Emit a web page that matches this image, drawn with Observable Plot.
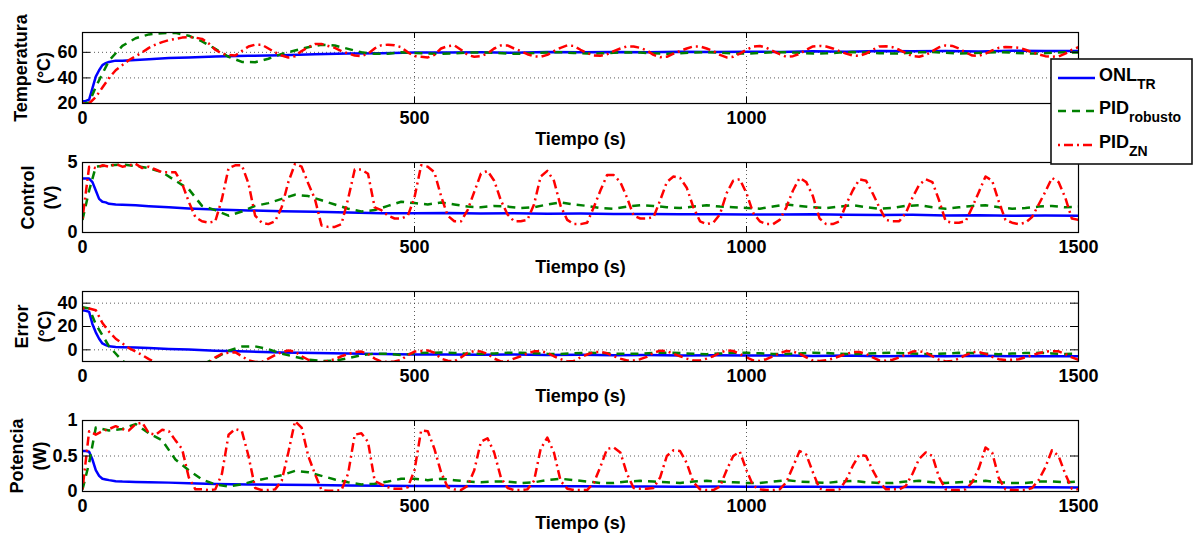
<!DOCTYPE html>
<html><head><meta charset="utf-8">
<script src="https://cdn.jsdelivr.net/npm/d3@7"></script>
<script src="https://cdn.jsdelivr.net/npm/@observablehq/plot@0.6"></script>
<style>
body{margin:0;background:#fff;}
#wrap{position:relative;width:1193px;height:535px;overflow:hidden;font-family:"Liberation Sans",Arial,sans-serif;}
#wrap svg.plotpanel{display:block}
</style></head><body><div id="wrap"></div>
<script>
// ---------- DATA ----------
const xTicks = [0, 500, 1000, 1500];
const xGrid = [500, 1000];
const xLabel = "Tiempo (s)";
const seriesNames = ["ONL", "PID", "PID"];
const seriesSubs = ["TR", "robusto", "ZN"];
const seriesColors = ["#0000ff", "#008000", "#ff0000"];

const tiempoONL = [0,5,10,15,20,25,30,35,40,50,60,80,100,130,160,200,250,300,350,400,450,500,550,600,650,700,750,800,850,900,950,1000,1050,1100,1150,1200,1250,1300,1350,1400,1450,1500];
const temperaturaONL = [21.5,22,23,32,41,46,50,51.5,52.5,53.5,53.5,54,54.5,55.5,56,56.8,57.3,57.8,58.5,59,59.3,59.8,59.8,60,59.7,60.2,60,60.3,60,60.4,60.2,60.5,60.3,60.8,60.5,61,60.8,61,60.7,61.2,61,61];
const controlONL = [3.85,3.85,3.85,3.6,3.0,2.4,2.2,2.15,2.05,2.0,1.98,1.95,1.88,1.8,1.72,1.64,1.58,1.52,1.48,1.42,1.38,1.38,1.4,1.36,1.37,1.34,1.35,1.32,1.33,1.3,1.31,1.29,1.28,1.3,1.26,1.25,1.26,1.22,1.24,1.2,1.22,1.2];
const errorONL = [34,33.5,32.5,22,15,9.5,5.5,4,3,2.5,2.3,2,1.5,0.8,0.2,-0.8,-1.5,-2.2,-2.8,-3.2,-3.5,-4,-4.1,-4.3,-4,-4.5,-4.3,-4.6,-4.4,-4.8,-4.6,-4.9,-4.7,-5.2,-4.9,-5.4,-5.2,-5.4,-5.1,-5.6,-5.4,-5.4];
const potenciaONL = [0.57,0.57,0.56,0.45,0.3,0.22,0.18,0.17,0.16,0.145,0.14,0.135,0.13,0.125,0.115,0.105,0.1,0.095,0.09,0.085,0.08,0.078,0.078,0.075,0.075,0.073,0.073,0.071,0.072,0.068,0.07,0.068,0.066,0.068,0.064,0.063,0.064,0.06,0.062,0.058,0.06,0.058];

const tiempoRob = [0,10,20,40,60,80,100,120,140,160,180,200,220,240,260,280,300,320,340,360,380,400,420,440,460,480,
  500,520,540,560,580,600,620,640,660,680,700,720,740,760,780,800,820,840,860,880,900,920,940,960,980,
  1000,1020,1040,1060,1080,1100,1120,1140,1160,1180,1200,1220,1240,1260,1280,1300,1320,1340,1360,1380,1400,1420,1440,1460,1480,1500];
const temperaturaRob = [20,20.5,33,53.5,65,71,74,75,75.2,73,68.6,62.7,56.5,52.5,52.3,55,58.8,61.4,64,66,65.3,62.7,60,58.8,58.8,60,
  59.5,59.0,58.8,59.2,59.8,60.0,59.6,59.0,58.9,59.4,59.9,60.1,59.5,59.0,59.2,59.7,60.0,59.8,59.2,58.9,
  59.3,59.8,60.2,59.7,59.1,59.0,59.5,60.0,60.1,59.6,59.0,59.2,59.8,60.2,59.8,59.3,59.0,59.4,60.0,60.2,
  59.6,59.1,59.3,59.9,60.2,59.7,59.2,59.1,59.6,60.0,59.8];
const controlRob = [0.9,3.0,4.7,4.8,4.85,4.75,4.6,4.3,3.7,3.1,1.9,1.6,1.2,1.5,1.9,2.1,2.4,2.7,2.6,2.3,2.0,1.7,1.5,1.6,1.9,2.2,
  2.1,2.0,2.15,2.0,1.85,1.8,1.9,1.85,1.75,1.8,2.0,2.15,2.0,1.9,1.75,1.7,1.85,1.95,1.9,1.8,
  1.75,1.85,1.95,1.85,1.8,1.75,1.7,1.85,2.0,1.9,1.8,1.75,1.85,1.95,1.8,1.7,1.75,1.9,1.95,1.8,
  1.7,1.8,1.9,1.95,1.8,1.7,1.75,1.85,1.9,1.8,1.85];
const errorRob = [36.5,35.5,22,3,-9.5,-15.5,-18.5,-19.5,-19.7,-17.5,-13,-7,-0.8,2.8,3,0.5,-3.3,-6,-8.5,-9.5,-9.3,-7.2,-4.5,-3.3,-3.3,-4.5,
  -3.0,-2.5,-2.3,-2.7,-3.3,-3.5,-3.1,-2.5,-2.4,-2.9,-3.4,-3.6,-3.0,-2.5,-2.7,-3.2,-3.5,-3.3,-2.7,-2.4,
  -2.8,-3.3,-3.7,-3.2,-2.6,-2.5,-3.0,-3.5,-3.6,-3.1,-2.5,-2.7,-3.3,-3.7,-3.3,-2.8,-2.5,-2.9,-3.5,-3.7,
  -3.1,-2.6,-2.8,-3.4,-3.7,-3.2,-2.7,-2.6,-3.1,-3.5,-3.3];
const potenciaRob = [0.03,0.4,0.9,0.86,0.88,0.95,0.82,0.72,0.45,0.3,0.17,0.1,0.07,0.1,0.15,0.19,0.23,0.29,0.27,0.22,0.17,0.13,0.1,0.11,0.14,0.18,
  0.18,0.16,0.18,0.16,0.14,0.13,0.14,0.14,0.12,0.13,0.16,0.18,0.16,0.14,0.12,0.12,0.14,0.15,0.14,0.13,
  0.12,0.14,0.15,0.14,0.13,0.12,0.12,0.14,0.16,0.14,0.13,0.12,0.14,0.15,0.13,0.12,0.12,0.14,0.15,0.13,
  0.12,0.13,0.14,0.15,0.13,0.12,0.12,0.14,0.14,0.13,0.14];

const tiempoZN = [0,10,20,30,40,50,60,70,80,90,100,110,120,130,140,150,160,170,180,190,200,210,220,230,240,250,260,270,280,290,
  300,310,320,330,340,350,360,370,380,390,400,410,420,430,440,450,460,470,480,490,500,510,520,530,540,550,560,570,580,590,
  600,610,620,630,640,650,660,670,680,690,700,710,720,730,740,750,760,770,780,790,800,810,820,830,840,850,860,870,880,890,
  900,910,920,930,940,950,960,970,980,990,1000,1010,1020,1030,1040,1050,1060,1070,1080,1090,1100,1110,1120,1130,1140,1150,1160,1170,1180,1190,
  1200,1210,1220,1230,1240,1250,1260,1270,1280,1290,1300,1310,1320,1330,1340,1350,1360,1370,1380,1390,1400,1410,1420,1430,1440,1450,1460,1470,1480,1490,1500];
const temperaturaZN = [20,20,25,32.5,40,46,50,54,57,60, 63.5,66,68,69.5,70.5,71.5,72,71.5,70.5,67,
  62,59,58,57.5,61,64.5,66,66,63,60, 57.5,56,57,61,64,66.5,66.5,65,63.5,61,
  59,57.5,57,59,63,65.5,66,65.5,64,60, 57,56.5,56,58,63,64.8,65.4,62,58,56.5,
  57,59,63,65.4,65.4,63,61,58.5,56.8,56.6, 58,61,63.5,65.4,65,62,59.5,57.5,57.3,58.5,
  61,63,64.6,64.6,63.5,61.5,58,56.2,56.5,59, 61,63,64.6,64.6,63,61,58,56,56.5,59,
  62,64.5,65,63.5,61,58.5,56.5,57,58.8,62, 64.6,65,64.5,63,61,59,57.5,57.3,59,62,
  64.6,64.8,64,62,59.5,57,56.6,58,61,64, 65.4,65,63,60,57.5,57.3,59,61.5,63.5,64.2,
  64,63.5,62,60,58.5,57,56.6,56.8,59,62, 64];
const controlZN = [1.0,4.7,4.6,4.8,4.7,4.9,4.7,4.8,4.9,4.6, 4.7,4.5,4.3,4.3,4.3,3.5,2.2,1.1,0.8,0.7,
  0.8,2.4,4.6,4.8,4.8,3.5,1.2,0.7,0.6,0.8, 1.8,3.6,4.9,4.7,3.5,2.4,0.5,0.4,0.4,0.6,
  2.4,4.5,4.5,4.2,1.8,1.6,1.2,1.0,1.0,1.2, 2.5,4.8,4.7,4.3,2.6,1.2,0.8,0.8,1.6,2.9,
  4.2,4.4,3.7,2.3,1.3,0.8,0.8,0.9,2.0,4.0, 4.4,3.7,1.9,0.9,0.6,0.6,0.7,1.8,3.0,4.1,
  4.1,3.6,2.5,1.2,1.0,1.0,1.1,2.3,3.6,4.0, 3.9,3.2,1.8,0.8,0.6,0.7,1.3,2.8,3.7,3.8,
  2.8,1.4,0.8,0.6,0.6,0.9,1.8,3.0,3.9,3.6, 2.6,1.0,0.6,0.6,0.8,2.0,3.0,3.8,3.7,2.8,
  1.8,0.9,0.8,0.8,1.4,2.5,3.4,3.8,3.6,2.3, 0.8,0.7,0.7,0.8,1.8,2.9,4.0,3.7,2.2,0.9,
  0.7,0.6,0.7,1.1,2.0,2.9,3.9,3.6,2.5,1.0, 0.9];
const errorZN = [35.5,35.5,34,23,15.5,9.5,5.5,1.5,-1.5,-4.5, -8,-10.5,-12.5,-14,-15,-16,-16.5,-16,-15,-11.5,
  -6.5,-3.5,-2.5,-2,-5.5,-9,-10.5,-10.5,-7.5,-4.5, -2,-0.5,-1.5,-5.5,-8.5,-11,-11,-9.5,-8,-5.5,
  -3.5,-2,-1.5,-3.5,-7.5,-10,-10.5,-10,-8.5,-4.5, -1.5,-1,-0.5,-2.5,-7.5,-9.3,-9.9,-6.5,-2.5,-1,
  -1.5,-3.5,-7.5,-9.9,-9.9,-7.5,-5.5,-3,-1.3,-1.1, -2.5,-5.5,-8,-9.9,-9.5,-6.5,-4,-2,-1.8,-3,
  -5.5,-7.5,-9.1,-9.1,-8,-6,-2.5,-0.7,-1,-3.5, -5.5,-7.5,-9.1,-9.1,-7.5,-5.5,-2.5,-0.5,-1,-3.5,
  -6.5,-9,-9.5,-8,-5.5,-3,-1,-1.5,-3.3,-6.5, -9.1,-9.5,-9,-7.5,-5.5,-3.5,-2,-1.8,-3.5,-6.5,
  -9.1,-9.3,-8.5,-6.5,-4,-1.5,-1.1,-2.5,-5.5,-8.5, -9.9,-9.5,-7.5,-4.5,-2,-1.8,-3.5,-6,-8,-8.7,
  -8.5,-8,-6.5,-4.5,-3,-1.5,-1.1,-1.3,-3.5,-6.5, -8.5];
const potenciaZN = [0.03,0.85,0.8,0.85,0.88,0.92,0.88,0.86,0.95,0.97, 0.82,0.8,0.87,0.85,0.72,0.6,0.2,0.03,0.03,0.02,
  0.03,0.25,0.8,0.88,0.85,0.5,0.05,0.02,0.02,0.03, 0.15,0.55,0.99,0.9,0.5,0.25,0.02,0.01,0.01,0.02,
  0.25,0.8,0.82,0.7,0.15,0.1,0.06,0.04,0.04,0.06, 0.3,0.86,0.85,0.6,0.27,0.06,0.03,0.02,0.08,0.3,
  0.7,0.75,0.55,0.2,0.05,0.02,0.02,0.03,0.15,0.6, 0.76,0.55,0.15,0.04,0.02,0.02,0.02,0.12,0.35,0.6,
  0.62,0.55,0.25,0.05,0.04,0.04,0.05,0.2,0.5,0.58, 0.57,0.4,0.13,0.03,0.02,0.02,0.07,0.3,0.5,0.56,
  0.3,0.08,0.03,0.02,0.02,0.03,0.13,0.35,0.57,0.52, 0.27,0.04,0.02,0.02,0.03,0.16,0.36,0.52,0.5,0.3,
  0.13,0.03,0.03,0.03,0.08,0.25,0.46,0.55,0.5,0.2, 0.03,0.02,0.02,0.03,0.13,0.33,0.62,0.55,0.19,0.03,
  0.02,0.02,0.02,0.05,0.16,0.34,0.58,0.5,0.25,0.04, 0.03];

const yLabels = ["Temperatura\n(°C)", "Control\n(V)", "Error\n(°C)", "Potencia\n(W)"];
const yDomains = [[20, 75.5], [0, 5], [-10, 50], [0, 1]];
const yTicks = [[20, 40, 60], [0, 5], [0, 20, 40], [0, 0.5, 1]];

// ---------- DRAWING ----------
const W = 1193, ML = 82, MR = 115;
const innerW = W - ML - MR;
const layout = [
  {h: 155, mt: 32, mb: 52, ldx: -51, xdy: 36},
  {h: 129, mt: 7, mb: 52, ldx: -44, xdy: 35},
  {h: 129, mt: 7, mb: 52, ldx: -50, xdy: 35},
  {h: 122, mt: 7, mb: 44, ldx: -55, xdy: 32}
];
const seriesByPanel = [
  [temperaturaONL, temperaturaRob, temperaturaZN],
  [controlONL, controlRob, controlZN],
  [errorONL, errorRob, errorZN],
  [potenciaONL, potenciaRob, potenciaZN]
];
const times = [tiempoONL, tiempoRob, tiempoZN];
const dashes = [null, "8,6", "2,4,9,4"];
const wrap = document.getElementById("wrap");
const gridStyle = {stroke: "#333", strokeOpacity: 0.8, strokeWidth: 1, strokeDasharray: "1,3"};

layout.forEach((L, p) => {
  const frameH = L.h - L.mt - L.mb;
  const lineMarks = [0, 1, 2].map(s => {
    const rows = times[s].map((t, i) => ({t, v: seriesByPanel[p][s][i]}));
    return Plot.line(rows, {
      x: "t", y: "v", stroke: seriesColors[s], strokeWidth: 2.5,
      strokeDasharray: dashes[s] || undefined,
      strokeLinecap: dashes[s] ? "butt" : "round",
      clip: true
    });
  });
  const chart = Plot.plot({
    width: W, height: L.h,
    marginLeft: ML, marginRight: MR, marginTop: L.mt, marginBottom: L.mb,
    style: {fontFamily: "'Liberation Sans', Arial, sans-serif", fontSize: "18px", fontWeight: "bold", background: "transparent", overflow: "visible", color: "black"},
    x: {domain: [0, 1500]},
    y: {domain: yDomains[p]},
    marks: [
      Plot.gridX(xGrid, gridStyle),
      Plot.gridY(yTicks[p], gridStyle),
      ...lineMarks,
      Plot.tickX(xTicks, {x: d => d, stroke: "black", insetTop: frameH - 6}),
      Plot.tickX(xTicks, {x: d => d, stroke: "black", insetBottom: frameH - 6}),
      Plot.tickY(yTicks[p], {y: d => d, stroke: "black", insetRight: innerW - 8}),
      Plot.tickY(yTicks[p], {y: d => d, stroke: "black", insetLeft: innerW - 8}),
      Plot.frame({stroke: "black", strokeWidth: 1.2}),
      Plot.axisX(xTicks, {tickSize: 0, tickPadding: 8, label: null, tickFormat: d => String(d)}),
      Plot.axisY(yTicks[p], {tickSize: 0, tickPadding: 5, label: null, tickFormat: d => String(d)}),
      Plot.text([xLabel], {text: d => d, frameAnchor: "bottom", dy: L.xdy, lineAnchor: "middle", textAnchor: "middle", fontSize: 18, fontWeight: "bold"}),
      Plot.text([yLabels[p]], {text: d => d, frameAnchor: "left", dx: L.ldx, rotate: -90, textAnchor: "middle", lineAnchor: "middle", lineHeight: 1.25, fontSize: 18, fontWeight: "bold"})
    ]
  });
  chart.classList.add("plotpanel");
  wrap.appendChild(chart);
});

// ---------- LEGEND ----------
const leg = d3.create("svg").attr("width", 143).attr("height", 107)
  .style("position", "absolute").style("left", "1050px").style("top", "58px")
  .style("font-family", "'Liberation Sans', Arial, sans-serif").style("font-weight", "bold");
leg.append("rect").attr("x", 1).attr("y", 1).attr("width", 141).attr("height", 105)
  .attr("fill", "white").attr("stroke", "#111").attr("stroke-width", 1.6);
const rowLine = [20, 53, 87], rowBase = [23, 55.5, 89.5];
seriesNames.forEach((name, i) => {
  leg.append("line").attr("x1", 8).attr("x2", 45).attr("y1", rowLine[i]).attr("y2", rowLine[i])
    .attr("stroke", seriesColors[i]).attr("stroke-width", 2.5)
    .attr("stroke-dasharray", dashes[i] || null);
  const t = leg.append("text").attr("x", 49).attr("y", rowBase[i]).attr("font-size", 18).text(name);
  t.append("tspan").attr("dy", 8).attr("font-size", 14).text(seriesSubs[i]);
});
wrap.appendChild(leg.node());
</script>
</body></html>
